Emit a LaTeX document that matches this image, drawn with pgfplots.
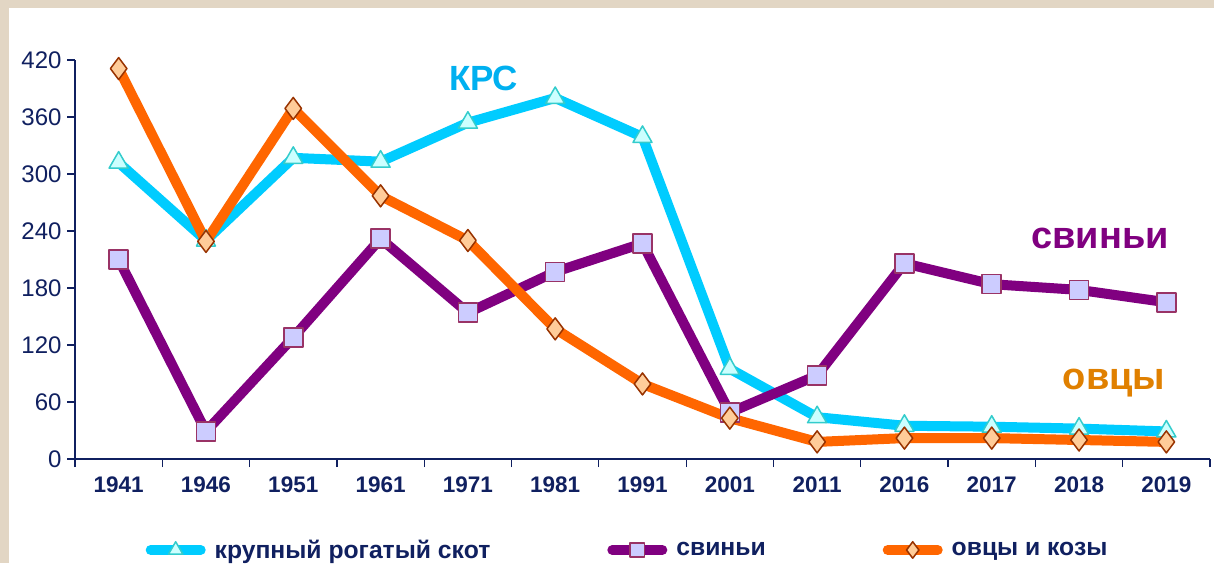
\documentclass[border=0pt]{standalone}
\usepackage{pgfplots}
\pgfplotsset{compat=1.18}
\usepackage{fontspec}
\setmainfont{Liberation Sans}
\definecolor{navy}{RGB}{16,32,96}
\definecolor{bgbeige}{RGB}{226,214,196}
\definecolor{krs}{RGB}{0,204,255}
\definecolor{krsfill}{RGB}{204,255,255}
\definecolor{krsedge}{RGB}{51,204,204}
\definecolor{krstext}{RGB}{0,176,240}
\definecolor{pig}{RGB}{128,0,128}
\definecolor{pigfill}{RGB}{204,204,255}
\definecolor{pigedge}{RGB}{153,51,102}
\definecolor{sheep}{RGB}{255,102,0}
\definecolor{sheepfill}{RGB}{255,204,153}
\definecolor{sheepedge}{RGB}{153,51,0}
\definecolor{sheeptext}{RGB}{224,128,0}

\pgfplotstableread{
x krs pig sheep
0 312 210 411
1 230 29 229
2 317 128 369
3 313 232 277
4 354 154 230
5 380 197 137
6 339 227 79
7 95 49 43
8 44 88 18
9 35 206 22
10 34 184 22
11 32 178 20
12 29 165 18
}\herd

\begin{document}
\begin{tikzpicture}[x=1pt,y=1pt]
\fill[bgbeige] (0,0) rectangle (1214,563);
\fill[white] (9,0) rectangle (1214,555);
\useasboundingbox (0,0) rectangle (1214,563);
\begin{axis}[
    at={(75pt,104pt)}, anchor=south west,
    scale only axis, width=1135pt, height=399pt,
    xmin=-0.5, xmax=12.5, ymin=0, ymax=420,
    clip=false,
    axis x line*=bottom, axis y line*=left,
    axis line style={-, draw=navy, line width=1.2pt},
    ytick={0,60,...,420},
    xtick={0,...,12},
    xticklabels={1941,1946,1951,1961,1971,1981,1991,2001,2011,2016,2017,2018,2019},
    minor xtick={-0.5,0.5,...,12.5},
    major x tick style={draw=none},
    tick style={draw=navy, line width=1.2pt},
    tick align=outside,
    major tick length=8pt, minor tick length=8pt,
    /pgf/number format/assume math mode=true,
    yticklabel style={font=\fontsize{24}{24}\selectfont, text=navy, xshift=-2pt},
    xticklabel style={font=\fontsize{22.5}{22.5}\selectfont\bfseries, text=navy, yshift=-6pt},
    legend style={draw=none, fill=none, at={(0.4846,-0.228)}, anchor=center,
        legend columns=-1, font=\fontsize{24.7}{24.7}\selectfont\bfseries, text=navy,
        /tikz/every even column/.append style={column sep=110pt}},
    legend image code/.code={\draw[mark repeat=2, mark phase=2, line cap=round, #1,
        every mark/.append style={scale=0.75}]
        plot coordinates {(5pt,0pt) (30pt,0pt) (55pt,0pt)};
        \path (0pt,0pt) (62pt,0pt);},
    every axis plot/.append style={line width=10pt, line join=round},
]
\addplot[krs, mark=triangle*, mark size=11pt,
    mark options={fill=krsfill, draw=krsedge, line width=1.5pt}] table[x=x, y=krs] {\herd};
\addlegendentry{крупный рогатый скот}
\addplot[pig, mark=square*, mark size=9.5pt,
    mark options={fill=pigfill, draw=pigedge, line width=1.5pt}] table[x=x, y=pig] {\herd};
\addlegendentry{свиньи}
\addplot[sheep, mark=diamond*, mark size=11pt,
    mark options={fill=sheepfill, draw=sheepedge, line width=1.5pt}] table[x=x, y=sheep] {\herd};
\addlegendentry{овцы и козы}
\node[font=\fontsize{35}{35}\selectfont\bfseries, text=krstext] at (axis cs:4.18,401) {КРС};
\node[font=\fontsize{38}{38}\selectfont\bfseries, text=pig] at (axis cs:11.24,232) {свиньи};
\node[font=\fontsize{38}{38}\selectfont\bfseries, text=sheeptext] at (axis cs:11.4,80) {овцы};
\end{axis}
\end{tikzpicture}
\end{document}
